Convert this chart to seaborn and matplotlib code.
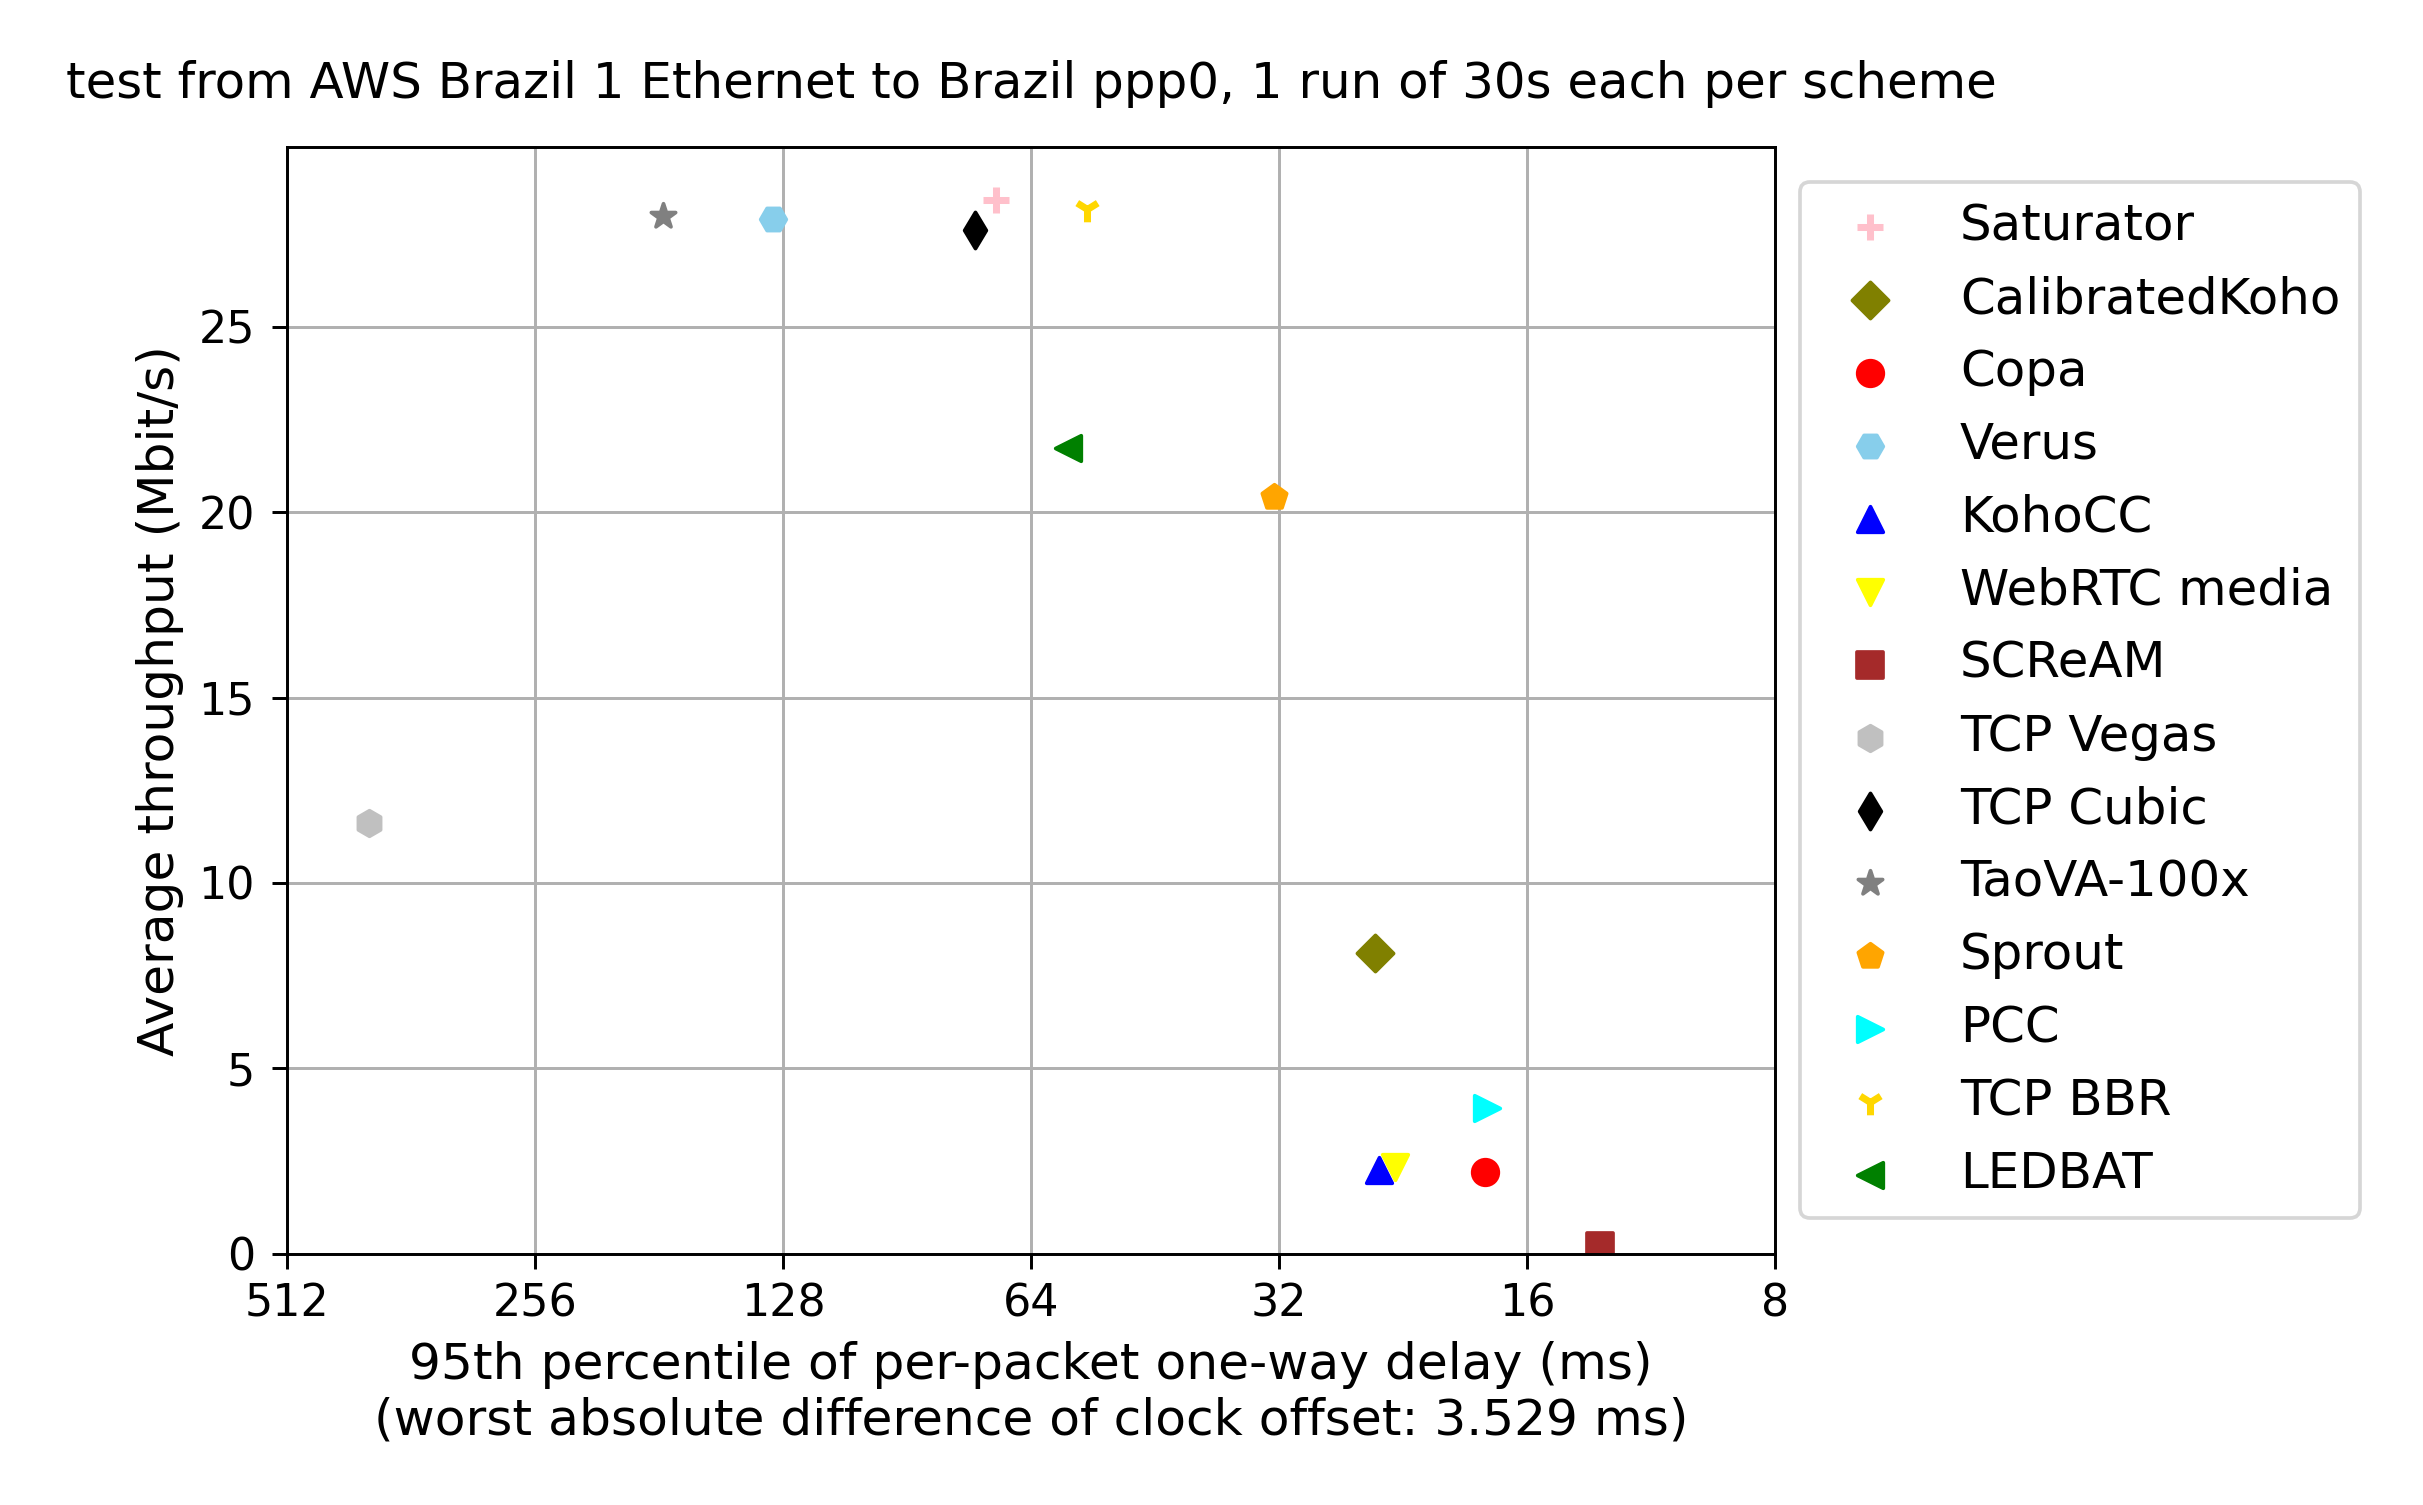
import matplotlib
matplotlib.use('Agg')
import matplotlib.pyplot as plt
import seaborn as sns
import pandas as pd


# 스킴별 결과 (95th percentile delay, 평균 처리량)
schemes = ['Saturator', 'CalibratedKoho', 'Copa', 'Verus', 'KohoCC', 'WebRTC media',
           'SCReAM', 'TCP Vegas', 'TCP Cubic', 'TaoVA-100x', 'Sprout', 'PCC',
           'TCP BBR', 'LEDBAT']
delay = [70.5, 24.5, 18.0, 131.7, 24.2, 23.15, 13.04, 407.0, 74.8, 178.9, 32.5, 17.9,
         54.8, 57.8]
tput = [28.43, 8.12, 2.2, 27.92, 2.26, 2.33, 0.21, 11.63, 27.61, 28.0, 20.40, 3.92,
        28.17, 21.74]
colors = ['pink', 'olive', 'red', 'skyblue', 'blue', 'yellow', 'brown', 'silver',
          'black', 'grey', 'orange', 'cyan', 'gold', 'green']
markers = ['+', 'D', 'o', 'H', '^', 'v', 's', 'h', 'd', '*', 'p', '>', '1', '<']

xticks = [512, 256, 128, 64, 32, 16, 8]
yticks = [0, 5, 10, 15, 20, 25]

df = pd.DataFrame({'scheme': schemes, 'delay': delay, 'tput': tput})


fig = plt.figure(figsize=(2423 / 266, 1505 / 266), dpi=266)
ax = fig.add_axes([0.1184, 0.167, 0.6143, 0.7355])

# 마커 종류가 섞여 있어서 스킴마다 따로 그리기
for i, name in enumerate(schemes):
    row = df[df['scheme'] == name]
    if markers[i] in ('+', '1'):
        sns.scatterplot(x='delay', y='tput', data=row, ax=ax, color=colors[i],
                        marker=markers[i], s=48, linewidth=1.9, label=name)
    else:
        sns.scatterplot(x='delay', y='tput', data=row, ax=ax, color=colors[i],
                        marker=markers[i], s=48, linewidth=1.0,
                        edgecolor=colors[i], label=name)

# x축: 로그 스케일 (base 2), 뒤집기
ax.set_xscale('log', base=2)
ax.set_xlim(512, 8)
ax.set_xticks(xticks)
ax.set_xticklabels([str(t) for t in xticks])
ax.minorticks_off()
ax.set_ylim(0, 29.86)
ax.set_yticks(yticks)

ax.tick_params(labelsize=12, length=4)
ax.tick_params(axis='x', pad=3.9)
ax.tick_params(axis='y', pad=4.6)
ax.grid(True, color='#b0b0b0', linewidth=0.8)
ax.set_axisbelow(True)

ax.set_xlabel('95th percentile of per-packet one-way delay (ms)\n'
              '(worst absolute difference of clock offset: 3.529 ms)', fontsize=13.6)
ax.set_ylabel('Average throughput (Mbit/s)', fontsize=13.6)
ax.set_title('test from AWS Brazil 1 Ethernet to Brazil ppp0, 1 run of 30s each per scheme',
             fontsize=13.5, pad=13.3)

ax.legend(scatterpoints=1, bbox_to_anchor=(1, 0.5), loc='center left',
          fontsize=13.5)

fig.savefig('out.png', dpi=266)
